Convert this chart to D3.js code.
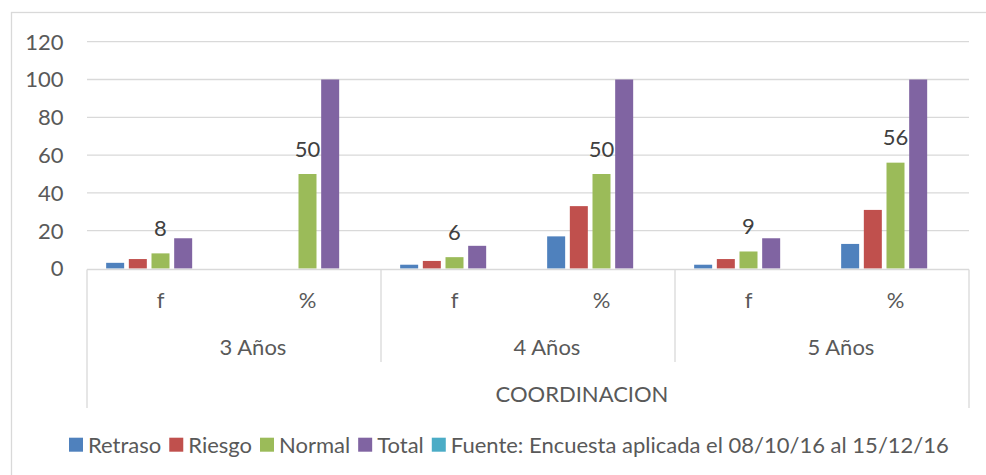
<!DOCTYPE html>
<html><head><meta charset="utf-8">
<script src="https://cdn.jsdelivr.net/npm/d3@7"></script>
<style>
body{margin:0;background:#fff;}
svg text{font-family:Lato,"Open Sans",sans-serif;}
</style>
</head><body>
<svg id="c" width="986" height="475"></svg>
<script>
// ---- data ----
const groups = ["3 Años", "4 Años", "5 Años"];
const subCategories = ["f", "%"];
const outerTitle = "COORDINACION";
const seriesNames = ["Retraso", "Riesgo", "Normal", "Total", "Fuente: Encuesta aplicada el 08/10/16 al 15/12/16"];
const retraso = [3, 0, 2, 17, 2, 13];
const riesgo  = [5, 0, 4, 33, 5, 31];
const normal  = [8, 50, 6, 50, 9, 56];
const total   = [16, 100, 12, 100, 16, 100];
const fuente  = [0, 0, 0, 0, 0, 0];
const yTicks  = [0, 20, 40, 60, 80, 100, 120];
const labelledSeries = "Normal";
const colors = ["#4F81BD", "#C0504D", "#9BBB59", "#8064A2", "#4BACC6"];

// ---- layout ----
const W = 986, H = 475;
const plot = {left: 87, right: 969, top: 41.7, bottom: 268.5};
const svg = d3.select("#c");
const gridColor = "#d9d9d9";
const axisText = "#595959";

svg.append("rect").attr("x", 11.5).attr("y", 12.5).attr("width", 990).attr("height", 480)
  .attr("fill", "#fff").attr("stroke", gridColor).attr("stroke-width", 1.3);

const seriesValues = [retraso, riesgo, normal, total, fuente];
const leaves = [];
groups.forEach(g => subCategories.forEach(s => leaves.push(g + "|" + s)));

const x = d3.scaleBand().domain(leaves).range([plot.left, plot.right]).padding(0);
const xs = d3.scaleBand().domain(seriesNames).range([0, x.bandwidth()])
  .paddingInner(0.206).paddingOuter(0.845);
const y = d3.scaleLinear().domain([0, 120]).range([plot.bottom, plot.top]);

// gridlines
svg.append("g").selectAll("line").data(yTicks.filter(d => d > 0)).join("line")
  .attr("x1", plot.left).attr("x2", plot.right)
  .attr("y1", d => y(d)).attr("y2", d => y(d))
  .attr("stroke", gridColor).attr("stroke-width", 1.3);

// y tick labels
svg.append("g").selectAll("text").data(yTicks).join("text")
  .attr("x", 63.5).attr("y", d => y(d)).attr("dy", "0.36em")
  .attr("text-anchor", "end").attr("font-size", 22).attr("fill", axisText)
  .text(d => d);

// bars
const barData = [];
seriesNames.forEach((s, si) => leaves.forEach((l, li) => {
  const v = seriesValues[si][li];
  if (v != null) barData.push({s, si, l, v});
}));
svg.append("g").selectAll("rect").data(barData.filter(d => d.v > 0)).join("rect")
  .attr("x", d => x(d.l) + xs(d.s)).attr("width", xs.bandwidth())
  .attr("y", d => y(d.v)).attr("height", d => y(0) - y(d.v))
  .attr("fill", d => colors[d.si]);

// data labels
svg.append("g").selectAll("text").data(barData.filter(d => d.s === labelledSeries)).join("text")
  .attr("x", d => x(d.l) + xs(d.s) + xs.bandwidth() / 2)
  .attr("y", d => y(d.v) - 17.5)
  .attr("text-anchor", "middle").attr("font-size", 22).attr("fill", "#404040")
  .text(d => d.v);

// category axis
const axisG = svg.append("g");
axisG.append("line").attr("x1", plot.left).attr("x2", plot.right)
  .attr("y1", y(0) + 1).attr("y2", y(0) + 1).attr("stroke", gridColor).attr("stroke-width", 1.3);
// outer verticals
[plot.left, plot.right].forEach(xx => axisG.append("line")
  .attr("x1", xx).attr("x2", xx).attr("y1", y(0) + 1).attr("y2", 408)
  .attr("stroke", gridColor).attr("stroke-width", 1.3));
// group separators
groups.slice(1).forEach(g => {
  const xx = x(g + "|" + subCategories[0]);
  axisG.append("line").attr("x1", xx).attr("x2", xx).attr("y1", y(0) + 1).attr("y2", 362)
    .attr("stroke", gridColor).attr("stroke-width", 1.3);
});
// leaf labels
axisG.selectAll("text.leaf").data(leaves).join("text").attr("class", "leaf")
  .attr("x", d => x(d) + x.bandwidth() / 2).attr("y", 308)
  .attr("text-anchor", "middle").attr("font-size", 22).attr("fill", axisText)
  .text(d => d.split("|")[1]);
// group labels
axisG.selectAll("text.grp").data(groups).join("text").attr("class", "grp")
  .attr("x", g => (x(g + "|" + subCategories[0]) + x(g + "|" + subCategories[subCategories.length - 1]) + x.bandwidth()) / 2)
  .attr("dx", 19).attr("y", 355)
  .attr("text-anchor", "middle").attr("font-size", 22).attr("fill", axisText)
  .text(g => g);
axisG.append("text").attr("x", (plot.left + plot.right) / 2).attr("dx", 54).attr("y", 401.5)
  .attr("text-anchor", "middle").attr("font-size", 22).attr("fill", axisText).text(outerTitle);

// legend
const leg = svg.append("g");
let lx = 69;
seriesNames.forEach((s, i) => {
  leg.append("rect").attr("x", lx).attr("y", 437.7).attr("width", 14).attr("height", 14).attr("fill", colors[i]);
  const t = leg.append("text").attr("x", lx + 19).attr("y", 452.5).attr("font-size", 22).attr("fill", axisText).text(s);
  lx += 19 + t.node().getComputedTextLength() + 8;
});
</script>
</body></html>
